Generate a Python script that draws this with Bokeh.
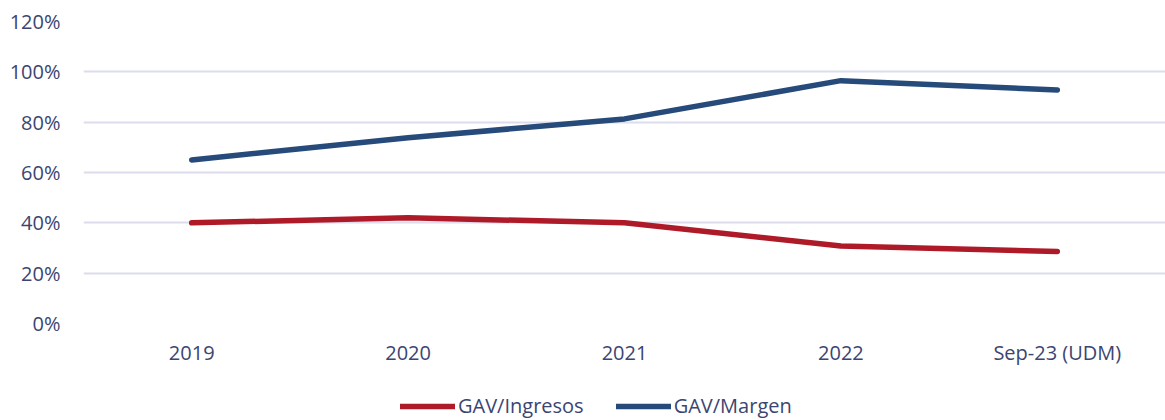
from bokeh.plotting import figure
from bokeh.layouts import column
from bokeh.models import FactorRange, Range1d, Legend, LegendItem, NumeralTickFormatter, FixedTicker
from bokeh.embed import file_html
from bokeh.resources import INLINE

categories = ["2019", "2020", "2021", "2022", "Sep-23 (UDM)"]
gav_ingresos = [0.40, 0.42, 0.40, 0.308, 0.286]
gav_margen = [0.65, 0.738, 0.813, 0.965, 0.928]
y_ticks = [0.0, 0.2, 0.4, 0.6, 0.8, 1.0, 1.2]
series_names = ["GAV/Ingresos", "GAV/Margen"]

FONT = "Open Sans"
TEXT = "#3B4571"
RED = "#AF1A28"
BLUE = "#264A7A"
GRID = "#DCDCEC"

p = figure(width=1165, height=385, x_range=FactorRange(*categories, range_padding=0),
           y_range=Range1d(0, 1.2), output_backend="svg", toolbar_location=None,
           min_border_left=83, min_border_right=0, min_border_top=21, min_border_bottom=62)
p.outline_line_color = None
p.background_fill_color = "white"

p.line(categories, gav_ingresos, line_color=RED, line_width=5.5, line_cap="round", line_join="round")
p.line(categories, gav_margen, line_color=BLUE, line_width=5.5, line_cap="round", line_join="round")

p.yaxis.ticker = FixedTicker(ticks=y_ticks)
p.yaxis.formatter = NumeralTickFormatter(format="0%")
for ax in (p.xaxis[0], p.yaxis[0]):
    ax.axis_line_color = None
    ax.major_tick_line_color = None
    ax.minor_tick_line_color = None
    ax.major_tick_out = 0
    ax.major_tick_in = 0
    ax.major_label_text_font = FONT
    ax.major_label_text_font_size = "20px"
    ax.major_label_text_color = TEXT
p.yaxis.major_label_standoff = 23
p.xaxis.major_label_standoff = 15

p.xgrid.grid_line_color = None
p.ygrid.grid_line_color = GRID
p.ygrid.grid_line_width = 2

# legend strip below the chart (its y range hides the series, only the legend shows)
lf = figure(width=1165, height=35, x_range=p.x_range, y_range=Range1d(5, 6),
            output_backend="svg", toolbar_location=None, x_axis_type=None, y_axis_type=None,
            min_border_left=83, min_border_right=0, min_border_top=0, min_border_bottom=0)
lf.outline_line_color = None
lf.xgrid.grid_line_color = None
lf.ygrid.grid_line_color = None
k1 = lf.line(categories, gav_ingresos, line_color=RED, line_width=5.5, line_cap="round")
k2 = lf.line(categories, gav_margen, line_color=BLUE, line_width=5.5, line_cap="round")
legend = Legend(items=[LegendItem(label=series_names[0], renderers=[k1]),
                       LegendItem(label=series_names[1], renderers=[k2])],
                orientation="horizontal", location=(317, 1),
                glyph_width=55, glyph_height=20, label_standoff=3, spacing=32,
                padding=0, margin=0, border_line_color=None, background_fill_alpha=0,
                label_text_font=FONT, label_text_font_size="20px", label_text_color=TEXT)
lf.add_layout(legend, "center")

layout = column(p, lf, spacing=0)
open("out.html", "w").write(file_html(layout, INLINE))
